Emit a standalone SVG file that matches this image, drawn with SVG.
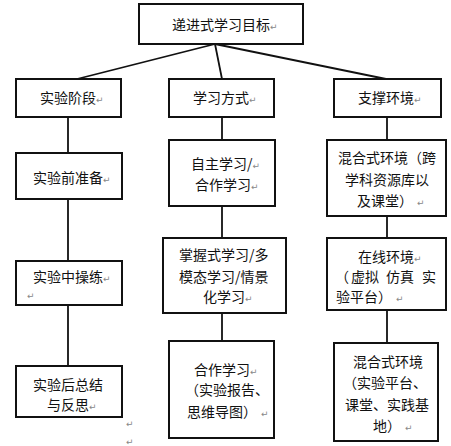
<svg xmlns="http://www.w3.org/2000/svg" width="451" height="446" viewBox="0 0 451 446">
<style>
.box{fill:#fff;stroke:#111;stroke-width:2}
.ln{stroke:#111;stroke-width:1.8;fill:none}
text{font-family:"Noto Sans CJK SC","Noto Sans",sans-serif;font-size:14px;fill:#111}
.pm{font-family:"DejaVu Sans",sans-serif;font-size:9px;fill:#888}
</style>
<rect width="451" height="446" fill="#fff"/>
<g id="connectors">
<line class="ln" x1="215" y1="44" x2="77" y2="79"/>
<line class="ln" x1="215" y1="44" x2="222" y2="79"/>
<line class="ln" x1="215" y1="44" x2="386" y2="79"/>
<line class="ln" x1="68" y1="117" x2="68" y2="153"/>
<line class="ln" x1="68" y1="199" x2="68" y2="261"/>
<line class="ln" x1="68" y1="305" x2="68" y2="366"/>
<line class="ln" x1="222" y1="117" x2="222" y2="140"/>
<line class="ln" x1="222" y1="206" x2="222" y2="238"/>
<line class="ln" x1="222" y1="313" x2="222" y2="341"/>
<line class="ln" x1="387" y1="117" x2="387" y2="140"/>
<line class="ln" x1="387" y1="216" x2="387" y2="238"/>
<line class="ln" x1="387" y1="310" x2="387" y2="343"/>
</g>
<g id="root">
<rect class="box" x="139" y="4" width="164" height="40"/>
<text x="172" y="30">递进式学习目标<tspan class="pm">↵</tspan></text>
</g>
<g id="stage">
<rect class="box" x="16" y="79" width="105" height="38"/>
<text x="40" y="103">实验阶段<tspan class="pm">↵</tspan></text>
</g>
<g id="method">
<rect class="box" x="169" y="79" width="105" height="38"/>
<text x="193" y="103">学习方式<tspan class="pm">↵</tspan></text>
</g>
<g id="env">
<rect class="box" x="334" y="79" width="107" height="38"/>
<text x="358" y="103">支撑环境<tspan class="pm">↵</tspan></text>
</g>
<g id="pre">
<rect class="box" x="16" y="153" width="106" height="46"/>
<text x="33" y="183">实验前准备<tspan class="pm">↵</tspan></text>
</g>
<g id="mid">
<rect class="box" x="16" y="261" width="106" height="44"/>
<text x="33" y="282">实验中操练<tspan class="pm">↵</tspan></text>
<text class="pm" x="27" y="299">↵</text>
</g>
<g id="post">
<rect class="box" x="16" y="366" width="106" height="51"/>
<text x="33" y="390">实验后总结</text>
<text x="47" y="410">与反思<tspan class="pm">↵</tspan></text>
</g>
<text class="pm" x="126" y="427">↵</text>
<text class="pm" x="126" y="445">↵</text>
<g id="m1">
<rect class="box" x="169" y="140" width="106" height="66"/>
<text x="191" y="169">自主学习/<tspan class="pm">↵</tspan></text>
<text x="195" y="190">合作学习<tspan class="pm">↵</tspan></text>
</g>
<g id="m2">
<rect class="box" x="163" y="238" width="123" height="75"/>
<text x="179" y="260">掌握式学习/多</text>
<text x="179" y="282">模态学习/情景</text>
<text x="203" y="302">化学习<tspan class="pm">↵</tspan></text>
</g>
<g id="m3">
<rect class="box" x="169" y="341" width="105" height="97"/>
<text x="194" y="375">合作学习<tspan class="pm">↵</tspan></text>
<text x="185" y="395">（实验报告、</text>
<text x="187" y="417">思维导图）<tspan class="pm" dx="4">↵</tspan></text>
</g>
<g id="e1">
<rect class="box" x="327" y="140" width="119" height="76"/>
<text x="338" y="163">混合式环境（跨</text>
<text x="345" y="185">学科资源库以</text>
<text x="357" y="206">及课堂）<tspan class="pm" dx="4">↵</tspan></text>
</g>
<g id="e2">
<rect class="box" x="327" y="238" width="119" height="72"/>
<text x="358" y="262">在线环境<tspan class="pm">↵</tspan></text>
<text x="335" y="282">（<tspan x="351">虚拟</tspan><tspan x="386">仿真</tspan><tspan x="422">实</tspan></text>
<text x="336" y="302">验平台）<tspan class="pm" dx="4">↵</tspan></text>
</g>
<g id="e3">
<rect class="box" x="334" y="343" width="104" height="98"/>
<text x="353" y="367">混合式环境</text>
<text x="343" y="388">（实验平台、</text>
<text x="345" y="410">课堂、实践基</text>
<text x="373" y="431">地）<tspan class="pm" dx="4">↵</tspan></text>
</g>
</svg>
